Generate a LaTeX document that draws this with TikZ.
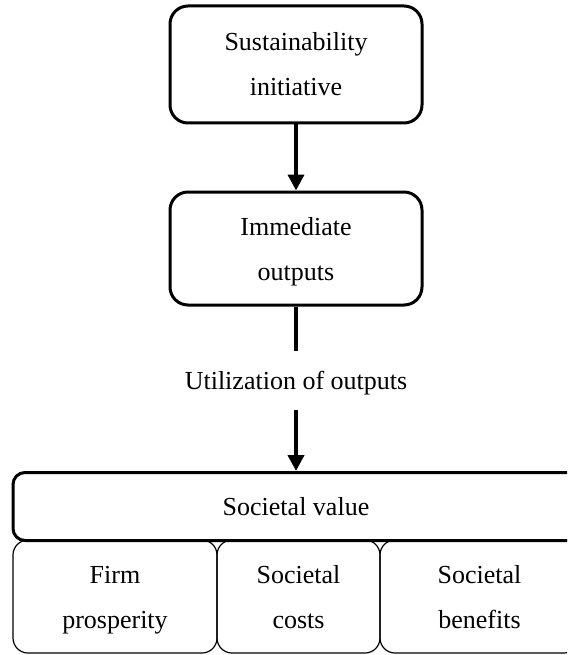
\documentclass[tikz,border=0pt]{standalone}
\usepackage{fontspec}
\setmainfont{Liberation Serif}
\usetikzlibrary{arrows.meta}
\begin{document}
\begin{tikzpicture}[x=1pt,y=-1pt,
  txt/.style={font=\fontsize{26}{45}\selectfont, align=center, inner sep=0pt},
  mainbox/.style={txt, draw, line width=3pt, rounded corners=18pt},
  valuebox/.style={txt, draw, line width=3pt, rounded corners=12pt},
  partbox/.style={txt, draw, line width=1.2pt, rounded corners=15pt},
  link/.style={line width=4pt},
  flow/.style={link, -{Triangle[width=16pt,length=16pt]}}]
\useasboundingbox (0,0) rectangle (567,655);
\clip (0,0) rectangle (567,655);

% upper chain
\node[mainbox, minimum width=252pt, minimum height=117pt] (init) at (296,64.5) {\strut Sustainability\\initiative\strut};
\node[mainbox, minimum width=252pt, minimum height=113pt] (outp) at (296,248.5) {\strut Immediate\\outputs\strut};
\node[txt] (util) at (296,383) {Utilization of outputs};
\coordinate (stub) at (296,351);
\coordinate (resume) at (296,410);

% value block
\node[valuebox, minimum width=566pt, minimum height=68pt] (value) at (296,506.5) {Societal value};
\node[partbox, minimum width=204pt, minimum height=113pt] (firm) at (115,596.5) {\strut Firm\\prosperity\strut};
\node[partbox, minimum width=163pt, minimum height=113pt] (costs) at (298.5,596.5) {\strut Societal\\costs\strut};
\node[partbox, minimum width=199pt, minimum height=113pt] (bene) at (479.5,596.5) {\strut Societal\\benefits\strut};

% connectors
\draw[flow] (init.south) -- (outp.north);
\draw[link] (outp.south) -- (stub);
\draw[flow] (resume) -- (value.north);
\end{tikzpicture}
\end{document}
